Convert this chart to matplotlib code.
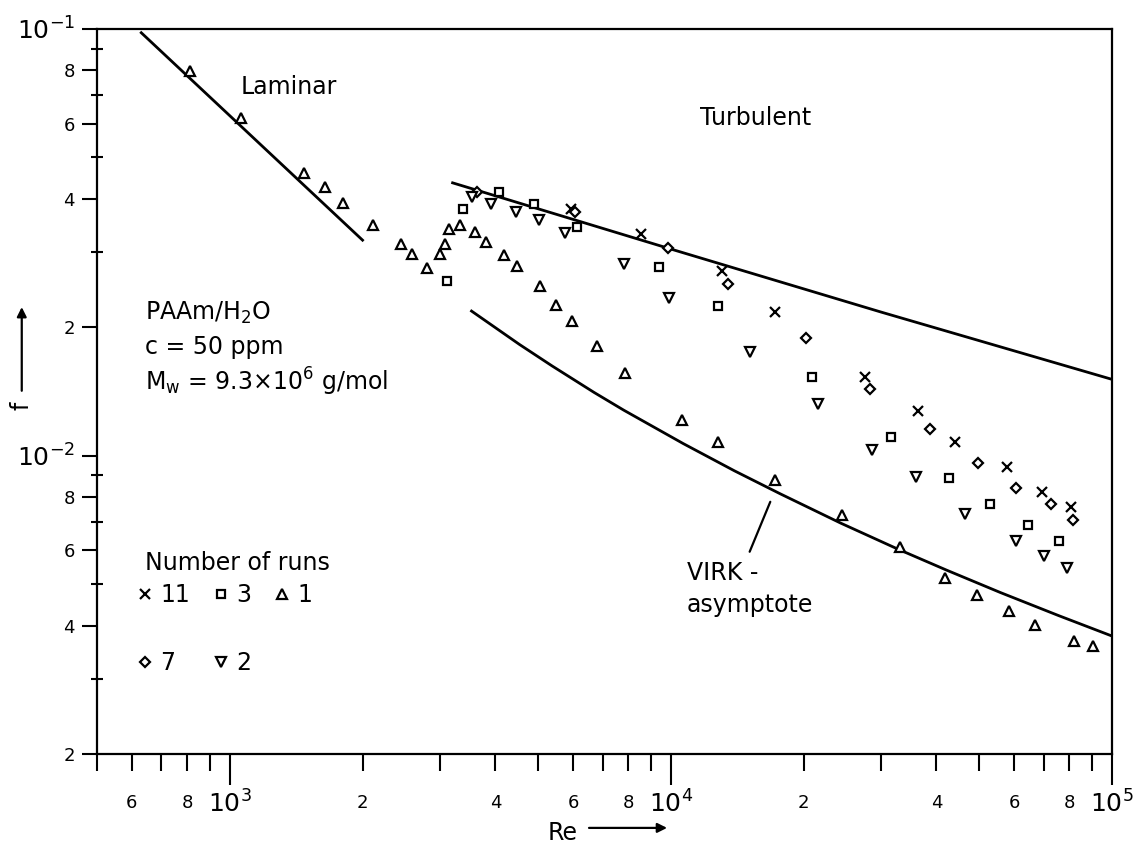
import numpy as np
import matplotlib.pyplot as plt
from matplotlib.patches import FancyArrowPatch
from matplotlib.ticker import FixedLocator, FixedFormatter

plt.rcParams['font.family'] = 'DejaVu Sans'
plt.rcParams['mathtext.default'] = 'regular'

# friction factor f vs Reynolds number, PAAm/H2O 50 ppm
# 1 run (triangles), incl. laminar range
re_1 = [811, 1058, 1476, 1644, 1803, 2114, 2441, 2583, 2805, 3000, 3078, 3140,
        3322, 3606, 3813, 4182, 4467, 5054, 5486, 5954, 6801, 7852, 10600, 12790,
        17250, 24370, 33100, 41880, 49430, 58340, 66980, 82090, 90350]
f_1 = [0.0798, 0.0619, 0.0461, 0.0426, 0.0392, 0.0348, 0.0313, 0.0297, 0.0275,
       0.0297, 0.0314, 0.0339, 0.0348, 0.0334, 0.0316, 0.0295, 0.0278, 0.0250,
       0.0226, 0.0207, 0.0181, 0.0156, 0.01214, 0.01079, 0.00875, 0.00725,
       0.00610, 0.00516, 0.00471, 0.00432, 0.00401, 0.00368, 0.00358]

# 2 runs (down triangles)
re_2 = [3548, 3908, 4446, 5030, 5746, 7816, 9908, 15100, 21570, 28640, 35860,
        46380, 60560, 69950, 79070]
f_2 = [0.0403, 0.0388, 0.0372, 0.0356, 0.0332, 0.0281, 0.0234, 0.0175, 0.0132,
       0.01033, 0.00893, 0.00731, 0.00630, 0.00581, 0.00545]

# 3 runs (squares)
re_3 = [3105, 3375, 4074, 4900, 6140, 9397, 12790, 20900, 31540, 42760, 52970,
        64570, 75860]
f_3 = [0.0257, 0.0379, 0.0414, 0.0388, 0.0344, 0.0277, 0.0224, 0.0153, 0.01107,
       0.00889, 0.00769, 0.00690, 0.00630]

# 7 runs (diamonds)
re_7 = [3641, 6050, 9846, 13490, 20220, 28310, 38640, 49660, 60560, 72600, 81600]
f_7 = [0.0416, 0.0372, 0.0306, 0.0252, 0.01888, 0.01435, 0.01156, 0.00964,
       0.00841, 0.00769, 0.00708]

# 11 runs (crosses)
re_11 = [5950, 8536, 13060, 17250, 27600, 36250, 44160, 57670, 69240, 80720]
f_11 = [0.0378, 0.0330, 0.0271, 0.0217, 0.0153, 0.01274, 0.01079, 0.00942,
        0.00824, 0.00760]

# reference curves
laminar_re = [630, 2000]
laminar_f = [0.098, 0.032]
turb_re = [3200, 10000, 30000, 100000]
turb_f = [0.0436, 0.0305, 0.0217, 0.0151]
virk_re = [3532, 4540, 5376, 6698, 7816, 10662, 13930, 17710, 24280, 32730,
           42070, 55850, 75720, 100000]
virk_f = [0.02183, 0.01822, 0.01624, 0.01407, 0.01279, 0.01068, 0.00922,
          0.00814, 0.00695, 0.00604, 0.00540, 0.00478, 0.00422, 0.00378]

series = [
    (re_11, f_11, 'x', 7, '11'),
    (re_7, f_7, 'D', 5, '7'),
    (re_3, f_3, 's', 6, '3'),
    (re_2, f_2, 'v', 7, '2'),
    (re_1, f_1, '^', 7, '1'),
]

fig = plt.figure(figsize=(11.45, 8.5), dpi=100)
ax = fig.add_axes([0.0847, 0.1129, 0.8865, 0.853])
ax.set_xscale('log')
ax.set_yscale('log')
ax.set_xlim(500, 1e5)
ax.set_ylim(2e-3, 1e-1)

for s in ax.spines.values():
    s.set_linewidth(1.6)

ax.plot(laminar_re, laminar_f, color='black', lw=2)
ax.plot(turb_re, turb_f, color='black', lw=2)
ax.plot(virk_re, virk_f, color='black', lw=2)

handles = {}
for re, f, m, ms, lab in series:
    h, = ax.plot(re, f, linestyle='none', marker=m, ms=ms, mfc='white',
                 mec='black', mew=1.6, color='black', label=lab)
    handles[lab] = h

# x ticks
ax.xaxis.set_major_locator(FixedLocator([1e3, 1e4, 1e5]))
ax.xaxis.set_major_formatter(FixedFormatter(['$10^3$', '$10^4$', '$10^5$']))
x_minor = [500, 600, 700, 800, 900] + [k * 1e3 for k in range(2, 10)] + \
          [k * 1e4 for k in range(2, 10)]
x_minor_lab = []
for v in x_minor:
    d = int(round(v / 10 ** np.floor(np.log10(v))))
    x_minor_lab.append(str(d) if d in (2, 4, 6, 8) else '')
ax.xaxis.set_minor_locator(FixedLocator(x_minor))
ax.xaxis.set_minor_formatter(FixedFormatter(x_minor_lab))
ax.tick_params(axis='x', which='major', direction='out', length=22, width=1.5,
               labelsize=18, pad=4)
ax.tick_params(axis='x', which='minor', direction='out', length=12, width=1.5,
               labelsize=13, pad=17)

# y ticks
y_major = [2e-3, 4e-3, 6e-3, 8e-3, 1e-2, 2e-2, 4e-2, 6e-2, 8e-2, 1e-1]
y_major_lab = ['2', '4', '6', '8', '$10^{-2}$', '2', '4', '6', '8', '$10^{-1}$']
ax.yaxis.set_major_locator(FixedLocator(y_major))
ax.yaxis.set_major_formatter(FixedFormatter(y_major_lab))
y_minor = [3e-3, 5e-3, 7e-3, 9e-3, 3e-2, 5e-2, 7e-2, 9e-2]
ax.yaxis.set_minor_locator(FixedLocator(y_minor))
ax.yaxis.set_minor_formatter(FixedFormatter([''] * len(y_minor)))
ax.tick_params(axis='y', which='major', direction='out', length=11, width=1.5,
               labelsize=13, pad=5)
ax.tick_params(axis='y', which='minor', direction='inout', length=8, width=1.5)
for t in ax.get_yticklabels():
    if t.get_text().startswith('$'):
        t.set_fontsize(18)

# annotations
ax.text(0.142, 0.920, 'Laminar', transform=ax.transAxes, fontsize=17,
        va='center')
ax.text(0.594, 0.877, 'Turbulent', transform=ax.transAxes, fontsize=17,
        va='center')
ax.text(0.047, 0.608, 'PAAm/H$_2$O', transform=ax.transAxes, fontsize=17,
        va='center')
ax.text(0.047, 0.561, 'c = 50 ppm', transform=ax.transAxes, fontsize=17,
        va='center')
ax.text(0.047, 0.513, 'M$_w$ = 9.3×10$^6$ g/mol', transform=ax.transAxes,
        fontsize=17, va='center')
ax.text(0.581, 0.250, 'VIRK -', transform=ax.transAxes, fontsize=17,
        va='center')
ax.text(0.581, 0.206, 'asymptote', transform=ax.transAxes, fontsize=17,
        va='center')
ax.annotate('', xy=(16800, 0.0078), xycoords='data',
            xytext=(0.643, 0.279), textcoords='axes fraction',
            arrowprops=dict(arrowstyle='-', color='black', lw=1.6,
                            shrinkA=0, shrinkB=0))

# key for the number of runs
ax.text(0.047, 0.263, 'Number of runs', transform=ax.transAxes, fontsize=17,
        va='center')
ax.legend([handles[k] for k in ['11', '7', '3', '2', '1']],
          ['11', '7', '3', '2', '1'], fontsize=17,
          ncol=3, loc='upper left', bbox_to_anchor=(0.039, 0.236),
          frameon=False, borderpad=0, borderaxespad=0,
          handlelength=0.7, handletextpad=0.3, columnspacing=0.95,
          labelspacing=1.87)

# axis labels with arrows
fig.text(0.478, 0.020, 'Re', fontsize=17, va='center')
fig.add_artist(FancyArrowPatch(
    (0.512, 0.026), (0.585, 0.026), transform=fig.transFigure,
    arrowstyle='-|>', mutation_scale=14, color='black', lw=1.6))
fig.text(0.019, 0.522, 'f', fontsize=17, rotation=90, ha='center',
         va='center')
fig.add_artist(FancyArrowPatch(
    (0.019, 0.537), (0.019, 0.642), transform=fig.transFigure,
    arrowstyle='-|>', mutation_scale=14, color='black', lw=1.6))

fig.savefig('out.png', dpi=100)
